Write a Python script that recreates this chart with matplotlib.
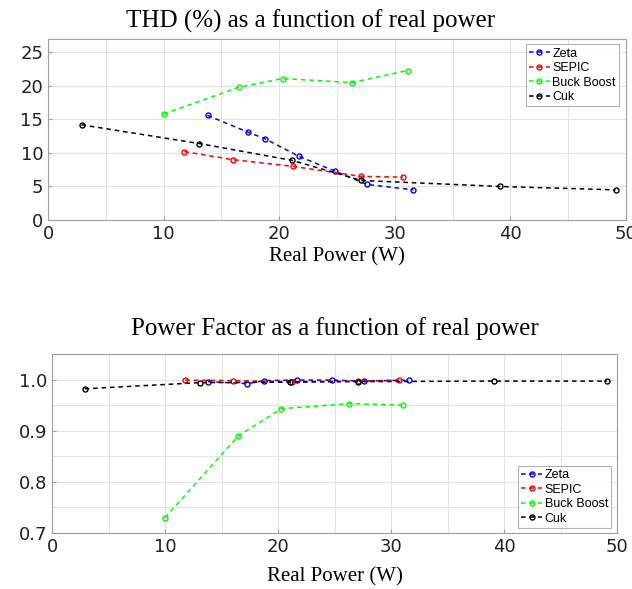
import matplotlib
matplotlib.use("Agg")
import matplotlib.pyplot as plt
from matplotlib.ticker import MultipleLocator, FormatStrFormatter

# THD / PF data
zeta_p = [13.8, 17.3, 18.8, 21.7, 24.8, 27.6, 31.6]
zeta_thd = [15.6, 13.1, 12.1, 9.5, 7.3, 5.3, 4.5]
zeta_pf = [0.996, 0.992, 0.998, 0.999, 0.999, 0.997, 0.999]

sepic_p = [11.8, 16.0, 21.2, 27.1, 30.7]
sepic_thd = [10.2, 9.0, 8.0, 6.5, 6.4]
sepic_pf = [0.999, 0.998, 0.996, 0.997, 0.999]

bb_p = [10.0, 16.5, 20.3, 26.3, 31.1]
bb_thd = [15.8, 19.8, 21.1, 20.5, 22.3]
bb_pf = [0.730, 0.890, 0.943, 0.953, 0.950]

cuk_p = [2.9, 13.1, 21.1, 27.1, 39.1, 49.1]
cuk_thd = [14.2, 11.4, 8.9, 5.9, 5.0, 4.5]
cuk_pf = [0.982, 0.994, 0.995, 0.996, 0.997, 0.997]

labels = ["Zeta", "SEPIC", "Buck Boost", "Cuk"]
colors = ["#0000ff", "#ff0000", "#00ff00", "#000000"]

fig = plt.figure(figsize=(6.32, 5.89), dpi=100)
ax1 = fig.add_axes([48/632, 1 - 220/589, 578/632, 181/589])
ax2 = fig.add_axes([52/632, 1 - 533/589, 565/632, 179/589])

serif = "Liberation Serif"

def style(ax, ylim, major, minor):
    ax.set_xlim(0, 50)
    ax.set_ylim(*ylim)
    ax.xaxis.set_major_locator(MultipleLocator(10))
    ax.xaxis.set_minor_locator(MultipleLocator(5))
    ax.yaxis.set_major_locator(MultipleLocator(major))
    ax.yaxis.set_minor_locator(MultipleLocator(minor))
    ax.grid(True, which="both", color="#e4e4e4", linewidth=0.8)
    ax.set_axisbelow(True)
    for s in ax.spines.values():
        s.set_color("#a0a0a0")
        s.set_linewidth(0.8)
    ax.tick_params(axis="both", which="both", direction="in", length=3, color="#a0a0a0",
                   labelsize=13, labelcolor="#222222")
    ax.tick_params(which="minor", length=0)

series_thd = [(zeta_p, zeta_thd), (sepic_p, sepic_thd), (bb_p, bb_thd), (cuk_p, cuk_thd)]
series_pf = [(zeta_p, zeta_pf), (sepic_p, sepic_pf), (bb_p, bb_pf), (cuk_p, cuk_pf)]

for ax, series in [(ax1, series_thd), (ax2, series_pf)]:
    for (x, y), c, lab in zip(series, colors, labels):
        ax.plot(x, y, linestyle="--", color=c, marker="o", markersize=3.6,
                markerfacecolor="none", markeredgewidth=1.0, linewidth=1.1,
                label=lab, dashes=(3, 2.5))

style(ax1, (0, 27), 5, 5)
style(ax2, (0.7, 1.05), 0.1, 0.05)
ax2.yaxis.set_major_formatter(FormatStrFormatter("%.1f"))

ax1.set_xlabel("Real Power (W)", fontfamily=serif, fontsize=15, labelpad=3)
ax2.set_xlabel("Real Power (W)", fontfamily=serif, fontsize=15, labelpad=8)

ax1.set_title("THD (%) as a function of real power", fontfamily=serif, fontsize=18,
              pad=8, x=0.455)
ax2.set_title("Power Factor as a function of real power", fontfamily=serif, fontsize=18,
              pad=14)

for ax, loc, anchor in [(ax1, "upper right", (0.988, 0.97)), (ax2, "lower right", (0.99, 0.03))]:
    leg = ax.legend(loc=loc, bbox_to_anchor=anchor, frameon=True, fancybox=False,
                    handlelength=1.7, handletextpad=0.2, borderpad=0.25, labelspacing=0.2,
                    borderaxespad=0.0, prop={"family": "Liberation Sans", "size": 9})
    leg.get_frame().set_edgecolor("#a0a0a0")
    leg.get_frame().set_linewidth(0.8)

fig.savefig("out.png", dpi=100, facecolor="white")
